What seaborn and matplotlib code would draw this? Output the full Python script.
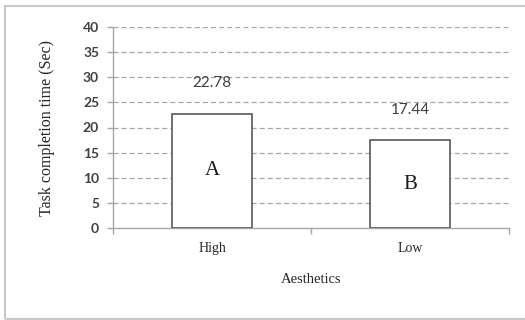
import matplotlib
matplotlib.use("Agg")
import matplotlib.pyplot as plt
import seaborn as sns
import pandas as pd
from matplotlib.patches import Rectangle

# Data
categories = ["High", "Low"]
times = [22.78, 17.44]
groups = ["A", "B"]
y_ticks = [0, 5, 10, 15, 20, 25, 30, 35, 40]

df = pd.DataFrame({"Aesthetics": categories, "Time": times})

sns.set_theme(style="white")
plt.rcParams["font.family"] = ["Liberation Serif", "DejaVu Serif"]

fig = plt.figure(figsize=(5.25, 3.2), dpi=100)
ax = fig.add_axes([113 / 525, 1 - 228 / 320, 396 / 525, 201 / 320])

# Light frame around the whole figure (open on the right)
fig.patches.append(Rectangle((5 / 525, 1.5 / 320), 1.0, 312.5 / 320,
                             transform=fig.transFigure, fill=False,
                             edgecolor="#c8c8c8", linewidth=1.5, zorder=0))

sns.barplot(data=df, x="Aesthetics", y="Time", color="white",
            edgecolor="#595959", linewidth=1.2, width=0.4, ax=ax,
            saturation=1, zorder=3)

ax.set_ylim(0, 40)
ax.set_xlim(-0.5, 1.5)
ax.set_yticks(y_ticks)
for t in y_ticks[1:]:
    ax.axhline(t, color="#a6a6a6", linestyle=(0, (4, 2.5)), linewidth=0.9, zorder=1)

for s in ["top", "right"]:
    ax.spines[s].set_visible(False)
for s in ["left", "bottom"]:
    ax.spines[s].set_color("#a6a6a6")
    ax.spines[s].set_linewidth(1.0)

# Category boundary ticks on the x-axis
ax.set_xticks([0, 1])
ax.set_xticks([-0.5, 0.5, 1.5], minor=True)
ax.tick_params(axis="x", which="major", length=0, pad=10, labelsize=10,
               labelcolor="#262626")
ax.tick_params(axis="x", which="minor", length=4, width=1.0, color="#a6a6a6",
               direction="out", bottom=True)
ax.tick_params(axis="y", length=4, width=1.0, color="#a6a6a6", direction="out",
               left=True, pad=6)
for lbl in ax.get_yticklabels():
    lbl.set_fontfamily(["Lato", "DejaVu Sans"])
    lbl.set_fontweight("bold")
    lbl.set_fontsize(10)
    lbl.set_color("#404040")

ax.set_xlabel("Aesthetics", fontsize=10.5, color="#262626", labelpad=13)
ax.set_ylabel("Task completion time (Sec)", fontsize=11.5, color="#262626",
              labelpad=20)

# Value labels above bars and group letters inside bars
for i, (v, g) in enumerate(zip(times, groups)):
    ax.annotate(f"{v:.2f}", xy=(i, v), xytext=(0, 22), textcoords="offset points",
                ha="center", va="center", fontsize=11,
                fontfamily=["Lato", "DejaVu Sans"], color="#404040")
    ax.text(i, v / 2, g, ha="center", va="center", fontsize=15,
            color="#1a1a1a", zorder=4)

fig.savefig("out.png", dpi=100, facecolor="white")
